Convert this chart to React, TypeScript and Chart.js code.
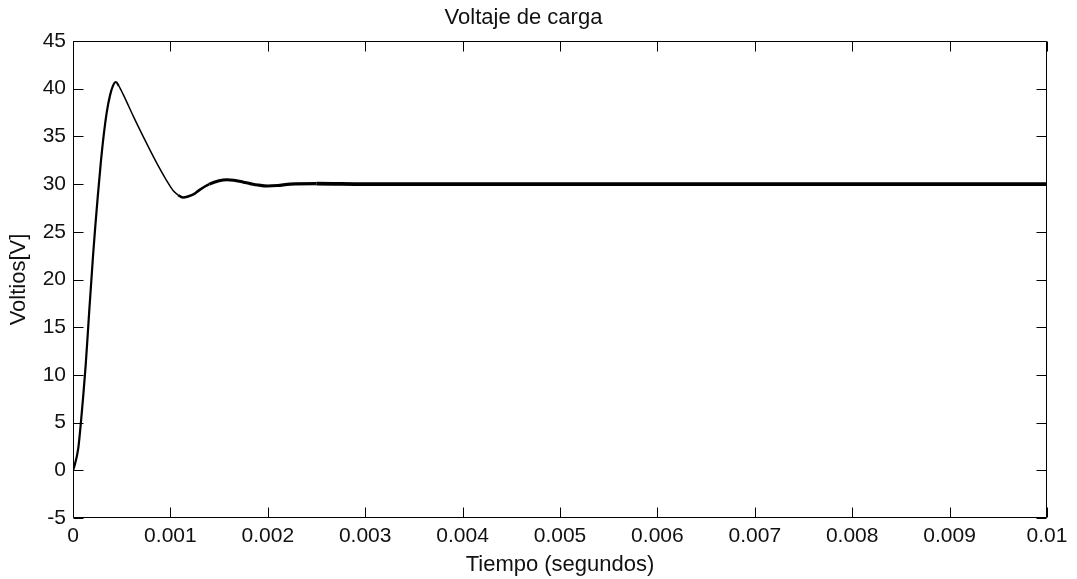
import React, { useEffect, useRef } from "react";
import { Chart, registerables } from "chart.js";

Chart.register(...registerables);

// Load voltage over time (seconds, volts)
const timeSeconds = [
  0, 0.0000133, 0.000054, 0.000082, 0.000106, 0.00013, 0.000151, 0.000168,
  0.000185, 0.000205, 0.000229, 0.000255, 0.000285, 0.000315, 0.000346,
  0.00038, 0.00041, 0.00044, 0.00047, 0.00052, 0.00062, 0.00072, 0.00086,
  0.00096, 0.00103, 0.00108, 0.00113, 0.00118, 0.00125, 0.0013, 0.0014,
  0.0015, 0.00158, 0.00165, 0.00175, 0.00182, 0.0019, 0.002, 0.0021,
  0.00223, 0.0025, 0.003, 0.004, 0.005, 0.006, 0.007, 0.008, 0.009, 0.01,
];
const loadVolts = [
  0, 0.4, 2.3, 5.1, 7.9, 11.0, 14.2, 16.9, 19.4, 22.4, 25.6, 28.8, 32.2,
  35.1, 37.5, 39.3, 40.3, 40.7, 40.3, 39.3, 37.1, 35.0, 32.2, 30.4, 29.3,
  28.85, 28.6, 28.7, 29.0, 29.4, 30.0, 30.35, 30.45, 30.4, 30.2, 30.05, 29.9,
  29.8, 29.85, 30.0, 30.05, 30.0, 30.0, 30.0, 30.0, 30.0, 30.0, 30.0, 30.0,
];

const xTickValues = [0, 0.001, 0.002, 0.003, 0.004, 0.005, 0.006, 0.007, 0.008, 0.009, 0.01];
const xTickLabels = ["0", "0.001", "0.002", "0.003", "0.004", "0.005", "0.006", "0.007", "0.008", "0.009", "0.01"];
const yTickValues = [-5, 0, 5, 10, 15, 20, 25, 30, 35, 40, 45];

const chartTitle = "Voltaje de carga";
const xAxisTitle = "Tiempo (segundos)";
const yAxisTitle = "Voltios[V]";

const FONT = "'Liberation Sans', Arial, Helvetica, sans-serif";
const TEXT_COLOR = "#111";

// Boxed axes with inward tick marks on all four sides
const boxAxesPlugin = {
  id: "boxAxes",
  afterDatasetsDraw(chart: any) {
    const { ctx, chartArea, scales } = chart;
    const { left, right, top, bottom } = chartArea;
    const L = Math.round(left) + 0.5;
    const R = Math.round(right) - 0.5;
    const T = Math.round(top) + 0.5;
    const B = Math.round(bottom) - 0.5;
    const len = 10;
    ctx.save();
    ctx.strokeStyle = "#000";
    ctx.lineWidth = 1;
    ctx.beginPath();
    ctx.rect(L, T, R - L, B - T);
    for (const v of xTickValues) {
      const px = Math.round(scales.x.getPixelForValue(v)) + 0.5;
      ctx.moveTo(px, B);
      ctx.lineTo(px, B - len);
      ctx.moveTo(px, T);
      ctx.lineTo(px, T + len);
    }
    for (const v of yTickValues) {
      const py = Math.round(scales.y.getPixelForValue(v)) + 0.5;
      ctx.moveTo(L, py);
      ctx.lineTo(L + len, py);
      ctx.moveTo(R, py);
      ctx.lineTo(R - len, py);
    }
    ctx.stroke();
    ctx.restore();
  },
};

// Trace thickness: thin during the first swing, heavier once the ripple settles
function segmentWidth(t: number): number {
  if (t < 0.00045) return 2.2;
  if (t < 0.00105) return 1.5;
  if (t < 0.0014) return 2.6;
  if (t < 0.0025) return 3.1;
  return 3.6;
}

export default function App() {
  const canvasRef = useRef<HTMLCanvasElement | null>(null);

  useEffect(() => {
    if (!canvasRef.current) return;
    const points = timeSeconds.map((t, i) => ({ x: t, y: loadVolts[i] }));
    const chart = new Chart(canvasRef.current, {
      type: "line",
      data: {
        datasets: [
          {
            data: points,
            borderColor: "#000",
            borderWidth: 2,
            pointRadius: 0,
            cubicInterpolationMode: "monotone",
            segment: {
              borderWidth: (ctx: any) => segmentWidth(ctx.p0.parsed.x),
            },
          },
        ],
      },
      options: {
        responsive: false,
        animation: false,
        layout: { padding: { left: 0, right: 30, top: 0, bottom: 0 } },
        plugins: {
          legend: { display: false },
          tooltip: { enabled: false },
          title: {
            display: true,
            text: chartTitle,
            color: TEXT_COLOR,
            font: { family: FONT, size: 22, weight: "normal" },
            padding: { top: 5, bottom: 9.6 },
          },
        },
        scales: {
          x: {
            type: "linear",
            min: 0,
            max: 0.01,
            afterBuildTicks: (scale: any) => {
              scale.ticks = xTickValues.map((v) => ({ value: v }));
            },
            afterFit: (scale: any) => {
              scale.height = 61;
            },
            grid: { display: false, drawTicks: false },
            border: { display: false },
            ticks: {
              color: TEXT_COLOR,
              font: { family: FONT, size: 21 },
              padding: 6,
              maxRotation: 0,
              autoSkip: false,
              callback: (_v: any, i: number) => xTickLabels[i],
            },
            title: {
              display: true,
              text: xAxisTitle,
              color: TEXT_COLOR,
              font: { family: FONT, size: 22 },
              padding: { top: 0, bottom: 1 },
            },
          },
          y: {
            type: "linear",
            min: -5,
            max: 45,
            afterBuildTicks: (scale: any) => {
              scale.ticks = yTickValues.map((v) => ({ value: v }));
            },
            afterFit: (scale: any) => {
              scale.width = 73;
            },
            grid: { display: false, drawTicks: false },
            border: { display: false },
            ticks: {
              color: TEXT_COLOR,
              font: { family: FONT, size: 21 },
              padding: 7,
              autoSkip: false,
              callback: (v: any) => String(v),
            },
            title: {
              display: true,
              text: yAxisTitle,
              color: TEXT_COLOR,
              font: { family: FONT, size: 22 },
              padding: { top: 6, bottom: 0 },
            },
          },
        },
      },
      plugins: [boxAxesPlugin],
    });
    return () => chart.destroy();
  }, []);

  return (
    <div style={{ position: "fixed", left: 0, top: 0, width: 1077, height: 579, background: "#fff" }}>
      <canvas ref={canvasRef} width={1077} height={579} />
    </div>
  );
}
